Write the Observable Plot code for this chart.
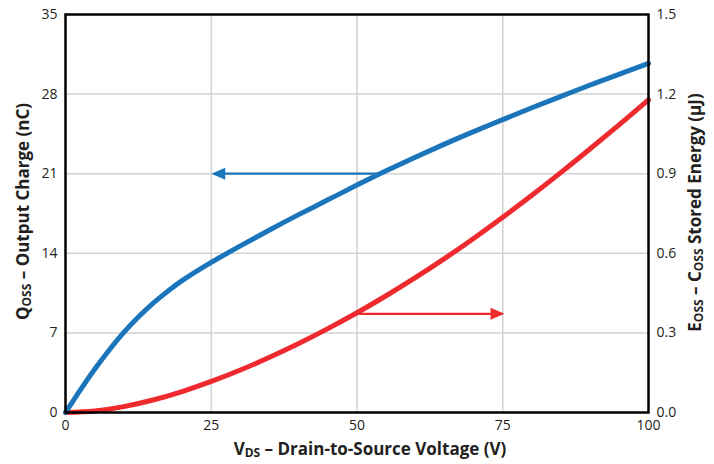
<!DOCTYPE html>
<html>
<head>
<meta charset="utf-8">
<script src="https://cdn.jsdelivr.net/npm/d3@7"></script>
<script src="https://cdn.jsdelivr.net/npm/@observablehq/plot@0.6"></script>
<style>
  html, body { margin: 0; padding: 0; background: #fff; }
  #chart { width: 714px; height: 464px; }
</style>
</head>
<body>
<div id="chart"></div>
<script>
// Drain-to-source voltage (V) sample points
const voltsQ = [0, 2.5, 5, 7.5, 10, 12.5, 15, 17.5, 20, 25, 30, 35, 40, 45, 50, 55, 60, 65, 70, 75, 80, 85, 90, 95, 100];
// Qoss – output charge (nC)
const qoss = [0, 1.95, 3.8, 5.5, 7.05, 8.4, 9.6, 10.65, 11.6, 13.2, 14.65, 16.05, 17.4, 18.7, 20.0, 21.25, 22.45, 23.6, 24.7, 25.75, 26.8, 27.8, 28.8, 29.75, 30.7];

const voltsE = [0, 5, 10, 15, 20, 25, 30, 35, 40, 45, 50, 55, 60, 65, 70, 75, 80, 85, 90, 95, 100];
// Eoss – Coss stored energy (µJ)
const eoss = [0, 0.006, 0.022, 0.047, 0.079, 0.117, 0.160, 0.208, 0.260, 0.316, 0.376, 0.440, 0.508, 0.580, 0.656, 0.736, 0.819, 0.905, 0.994, 1.085, 1.178];

// Axis ticks
const xTicks = [0, 25, 50, 75, 100];
const qTicks = [0, 7, 14, 21, 28, 35];
const eTicks = [0, 0.3, 0.6, 0.9, 1.2, 1.5];

// Arrow annotations (which axis each curve belongs to)
const qArrow = [{x1: 53.5, x2: 25, q: 21}];
const eArrow = [{x1: 49.5, x2: 75.3, e: 0.372}];

const blue = "#1B75BB";
const red = "#EE2A2F";
const k = 35 / 1.5; // energy -> charge-axis units

const qData = voltsQ.map((v, i) => ({v, q: qoss[i]}));
const eData = voltsE.map((v, i) => ({v, q: eoss[i] * k}));

const head = {
  draw(ctx, l) {
    ctx.moveTo(0, -l);
    ctx.lineTo(-6, 0);
    ctx.lineTo(6, 0);
    ctx.closePath();
  }
};

const plot = Plot.plot({
  width: 714,
  height: 464,
  marginLeft: 65,
  marginRight: 66,
  marginTop: 14,
  marginBottom: 52,
  style: {fontFamily: "'Open Sans', sans-serif", fontSize: "14px", color: "#231f20", background: "#fff"},
  x: {domain: [0, 100]},
  y: {domain: [0, 35]},
  marks: [
    Plot.gridX(xTicks.slice(1, -1), {stroke: "#d2d2d2", strokeOpacity: 1, strokeWidth: 1.5}),
    Plot.gridY(qTicks.slice(1, -1), {stroke: "#d2d2d2", strokeOpacity: 1, strokeWidth: 1.5}),
    Plot.axisX(xTicks, {tickSize: 0, tickPadding: 8, label: null}),
    Plot.axisY(qTicks, {tickSize: 0, tickPadding: 8, label: null}),
    Plot.axisY(eTicks.map(e => e * k), {anchor: "right", tickSize: 0, tickPadding: 8, label: null,
      tickFormat: d => (d / k).toFixed(1)}),
    // arrows
    Plot.link(qArrow, {x1: "x1", x2: d => d.x2 + 2, y1: "q", y2: "q", stroke: blue, strokeWidth: 2.2}),
    Plot.vector(qArrow, {x: "x2", y: "q", rotate: -90, length: 14, anchor: "end", shape: head, fill: blue, stroke: "none"}),
    Plot.link(eArrow, {x1: "x1", x2: d => d.x2 - 2, y1: d => d.e * k, y2: d => d.e * k, stroke: red, strokeWidth: 2.2}),
    Plot.vector(eArrow, {x: "x2", y: d => d.e * k, rotate: 90, length: 14, anchor: "end", shape: head, fill: red, stroke: "none"}),
    // curves
    Plot.line(eData, {x: "v", y: "q", stroke: red, strokeWidth: 5, curve: "natural"}),
    Plot.line(qData, {x: "v", y: "q", stroke: blue, strokeWidth: 5, curve: "natural"}),
    Plot.frame({stroke: "#000", strokeWidth: 2.5})
  ]
});

document.getElementById("chart").appendChild(plot);

// Axis titles with subscripts
const svg = d3.select(plot);
const titleStyle = t => t.attr("font-family", "'Open Sans', sans-serif").attr("font-weight", "bold")
  .attr("font-size", 17).attr("fill", "#231f20").attr("text-anchor", "middle");

const xt = svg.append("text").attr("x", 370).attr("y", 455).call(titleStyle);
xt.append("tspan").text("V");
xt.append("tspan").attr("font-size", 12).attr("dy", 2).text("DS");
xt.append("tspan").attr("dy", -2).text(" – Drain-to-Source Voltage (V)");

const yl = svg.append("text").attr("transform", "translate(29,211.5) rotate(-90)").call(titleStyle);
yl.append("tspan").text("Q");
yl.append("tspan").attr("font-size", 12).attr("dy", 2).text("OSS");
yl.append("tspan").attr("dy", -2).text(" – Output Charge (nC)");

const yr = svg.append("text").attr("transform", "translate(701,212.5) rotate(-90)").call(titleStyle);
yr.append("tspan").text("E");
yr.append("tspan").attr("font-size", 12).attr("dy", 2).text("OSS");
yr.append("tspan").attr("dy", -2).text(" – C");
yr.append("tspan").attr("font-size", 12).attr("dy", 2).text("OSS");
yr.append("tspan").attr("dy", -2).text(" Stored Energy (µJ)");
</script>
</body>
</html>
